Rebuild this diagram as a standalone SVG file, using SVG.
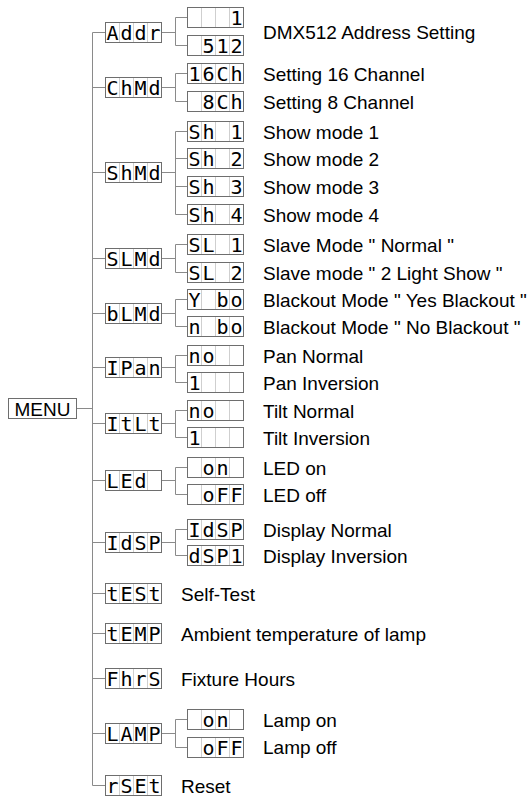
<svg xmlns="http://www.w3.org/2000/svg" xmlns:xlink="http://www.w3.org/1999/xlink" width="531" height="801" viewBox="0 0 531 801">
<style>
.box{fill:#fff;stroke:#6e6e6e;stroke-width:1}
.div{fill:none;stroke:#cfcfcf;stroke-width:1}
.ln{fill:none;stroke:#8a8a8a;stroke-width:1}
.seg{font-family:"DejaVu Sans Mono",monospace;font-size:20px;fill:#000;text-anchor:middle}
.lbl{font-family:"Liberation Sans",Arial,sans-serif;font-size:19px;fill:#000}
.menu{font-family:"Liberation Sans",Arial,sans-serif;font-size:19px;fill:#000;text-anchor:middle}
</style>
<defs>
<g id="lcd">
<rect class="box" x="0.5" y="0.5" width="56" height="20"/>
<path class="div" d="M14.5 1V20M28.5 1V20M42.5 1V20"/>
</g>
</defs>
<rect width="531" height="801" fill="#fff"/>
<g id="connectors" class="ln">
<path d="M76.5 408.5H92.5"/>
<path d="M105 32.5H92.5V785.5H105M92.5 87.5H105M92.5 172.5H105M92.5 258.5H105M92.5 313.5H105M92.5 367.5H105M92.5 423.5H105M92.5 480.5H105M92.5 542.5H105M92.5 593.5H105M92.5 633.5H105M92.5 678.5H105M92.5 733.5H105"/>
<path d="M161.5 32.5H175.5M187 17.5H175.5V45.5H187"/>
<path d="M161.5 87.5H175.5M187 73.5H175.5V101.5H187"/>
<path d="M161.5 172.5H175.5M187 131.5H175.5V214.5H187M175.5 158.5H187M175.5 186.5H187"/>
<path d="M161.5 258.5H175.5M187 244.5H175.5V272.5H187"/>
<path d="M161.5 313.5H175.5M187 299.5H175.5V326.5H187"/>
<path d="M161.5 367.5H175.5M187 355.5H175.5V382.5H187"/>
<path d="M161.5 423.5H175.5M187 410.5H175.5V437.5H187"/>
<path d="M161.5 480.5H175.5M187 467.5H175.5V494.5H187"/>
<path d="M161.5 542.5H175.5M187 529.5H175.5V555.5H187"/>
<path d="M161.5 733.5H175.5M187 719.5H175.5V747.5H187"/>
</g>
<g id="menu">
<rect class="box" x="8.5" y="398.5" width="68" height="20"/>
<text class="menu" x="42.5" y="416">MENU</text>
</g>
<g id="addr"><use xlink:href="#lcd" x="105" y="22"/><text class="seg" x="112.5 126.5 140.5 154.5" y="40">Addr</text></g>
<g id="addr-1"><use xlink:href="#lcd" x="187" y="7"/><text class="seg" x="236.5" y="25">1</text></g>
<g id="addr-512"><use xlink:href="#lcd" x="187" y="35"/><text class="seg" x="208.5 222.5 236.5" y="53">512</text></g>
<text class="lbl" x="263" y="39">DMX512 Address Setting</text>
<g id="chmd"><use xlink:href="#lcd" x="105" y="77"/><text class="seg" x="112.5 126.5 140.5 154.5" y="95">ChMd</text></g>
<g id="ch16"><use xlink:href="#lcd" x="187" y="63"/><text class="seg" x="194.5 208.5 222.5 236.5" y="81">16Ch</text><text class="lbl" x="263" y="81">Setting 16 Channel</text></g>
<g id="ch8"><use xlink:href="#lcd" x="187" y="91"/><text class="seg" x="208.5 222.5 236.5" y="109">8Ch</text><text class="lbl" x="263" y="109">Setting 8 Channel</text></g>
<g id="shmd"><use xlink:href="#lcd" x="105" y="162"/><text class="seg" x="112.5 126.5 140.5 154.5" y="180">ShMd</text></g>
<g id="sh1"><use xlink:href="#lcd" x="187" y="121"/><text class="seg" x="194.5 208.5 236.5" y="139">Sh1</text><text class="lbl" x="263" y="138.5">Show mode 1</text></g>
<g id="sh2"><use xlink:href="#lcd" x="187" y="148"/><text class="seg" x="194.5 208.5 236.5" y="166">Sh2</text><text class="lbl" x="263" y="166">Show mode 2</text></g>
<g id="sh3"><use xlink:href="#lcd" x="187" y="176"/><text class="seg" x="194.5 208.5 236.5" y="194">Sh3</text><text class="lbl" x="263" y="194">Show mode 3</text></g>
<g id="sh4"><use xlink:href="#lcd" x="187" y="204"/><text class="seg" x="194.5 208.5 236.5" y="222">Sh4</text><text class="lbl" x="263" y="222">Show mode 4</text></g>
<g id="slmd"><use xlink:href="#lcd" x="105" y="248"/><text class="seg" x="112.5 126.5 140.5 154.5" y="266">SLMd</text></g>
<g id="sl1"><use xlink:href="#lcd" x="187" y="234"/><text class="seg" x="194.5 208.5 236.5" y="252">SL1</text><text class="lbl" x="263" y="252">Slave Mode " Normal "</text></g>
<g id="sl2"><use xlink:href="#lcd" x="187" y="262"/><text class="seg" x="194.5 208.5 236.5" y="280">SL2</text><text class="lbl" x="263" y="279.5">Slave mode " 2 Light Show "</text></g>
<g id="blmd"><use xlink:href="#lcd" x="105" y="303"/><text class="seg" x="112.5 126.5 140.5 154.5" y="321">bLMd</text></g>
<g id="ybo"><use xlink:href="#lcd" x="187" y="289"/><text class="seg" x="194.5 222.5 236.5" y="307">Ybo</text><text class="lbl" x="263" y="306.5">Blackout Mode " Yes Blackout "</text></g>
<g id="nbo"><use xlink:href="#lcd" x="187" y="316"/><text class="seg" x="194.5 222.5 236.5" y="334">nbo</text><text class="lbl" x="263" y="333.5">Blackout Mode " No Blackout "</text></g>
<g id="ipan"><use xlink:href="#lcd" x="105" y="357"/><text class="seg" x="112.5 126.5 140.5 154.5" y="375">IPan</text></g>
<g id="pan-no"><use xlink:href="#lcd" x="187" y="345"/><text class="seg" x="194.5 208.5" y="363">no</text><text class="lbl" x="263" y="362.5">Pan Normal</text></g>
<g id="pan-1"><use xlink:href="#lcd" x="187" y="372"/><text class="seg" x="194.5" y="390">1</text><text class="lbl" x="263" y="389.5">Pan Inversion</text></g>
<g id="itlt"><use xlink:href="#lcd" x="105" y="413"/><text class="seg" x="112.5 126.5 140.5 154.5" y="431">ItLt</text></g>
<g id="tilt-no"><use xlink:href="#lcd" x="187" y="400"/><text class="seg" x="194.5 208.5" y="418">no</text><text class="lbl" x="263" y="417.5">Tilt Normal</text></g>
<g id="tilt-1"><use xlink:href="#lcd" x="187" y="427"/><text class="seg" x="194.5" y="445">1</text><text class="lbl" x="263" y="444.5">Tilt Inversion</text></g>
<g id="led"><use xlink:href="#lcd" x="105" y="470"/><text class="seg" x="112.5 126.5 140.5" y="488">LEd</text></g>
<g id="led-on"><use xlink:href="#lcd" x="187" y="457"/><text class="seg" x="208.5 222.5" y="475">on</text><text class="lbl" x="263" y="474.5">LED on</text></g>
<g id="led-off"><use xlink:href="#lcd" x="187" y="484"/><text class="seg" x="208.5 222.5 236.5" y="502">oFF</text><text class="lbl" x="263" y="502">LED off</text></g>
<g id="idsp"><use xlink:href="#lcd" x="105" y="532"/><text class="seg" x="112.5 126.5 140.5 154.5" y="550">IdSP</text></g>
<g id="disp-n"><use xlink:href="#lcd" x="187" y="519"/><text class="seg" x="194.5 208.5 222.5 236.5" y="537">IdSP</text><text class="lbl" x="263" y="536.5">Display Normal</text></g>
<g id="disp-i"><use xlink:href="#lcd" x="187" y="545"/><text class="seg" x="194.5 208.5 222.5 236.5" y="563">dSP1</text><text class="lbl" x="263" y="563">Display Inversion</text></g>
<g id="test"><use xlink:href="#lcd" x="105" y="583"/><text class="seg" x="112.5 126.5 140.5 154.5" y="601">tESt</text><text class="lbl" x="181" y="600.5">Self-Test</text></g>
<g id="temp"><use xlink:href="#lcd" x="105" y="623"/><text class="seg" x="112.5 126.5 140.5 154.5" y="641">tEMP</text><text class="lbl" x="181" y="640.5">Ambient temperature of lamp</text></g>
<g id="fhrs"><use xlink:href="#lcd" x="105" y="668"/><text class="seg" x="112.5 126.5 140.5 154.5" y="686">FhrS</text><text class="lbl" x="181" y="685.5">Fixture Hours</text></g>
<g id="lamp"><use xlink:href="#lcd" x="105" y="723"/><text class="seg" x="112.5 126.5 140.5 154.5" y="741">LAMP</text></g>
<g id="lamp-on"><use xlink:href="#lcd" x="187" y="709"/><text class="seg" x="208.5 222.5" y="727">on</text><text class="lbl" x="263" y="727">Lamp on</text></g>
<g id="lamp-off"><use xlink:href="#lcd" x="187" y="737"/><text class="seg" x="208.5 222.5 236.5" y="755">oFF</text><text class="lbl" x="263" y="754">Lamp off</text></g>
<g id="rset"><use xlink:href="#lcd" x="105" y="775"/><text class="seg" x="112.5 126.5 140.5 154.5" y="793">rSEt</text><text class="lbl" x="181" y="792.5">Reset</text></g>
</svg>
